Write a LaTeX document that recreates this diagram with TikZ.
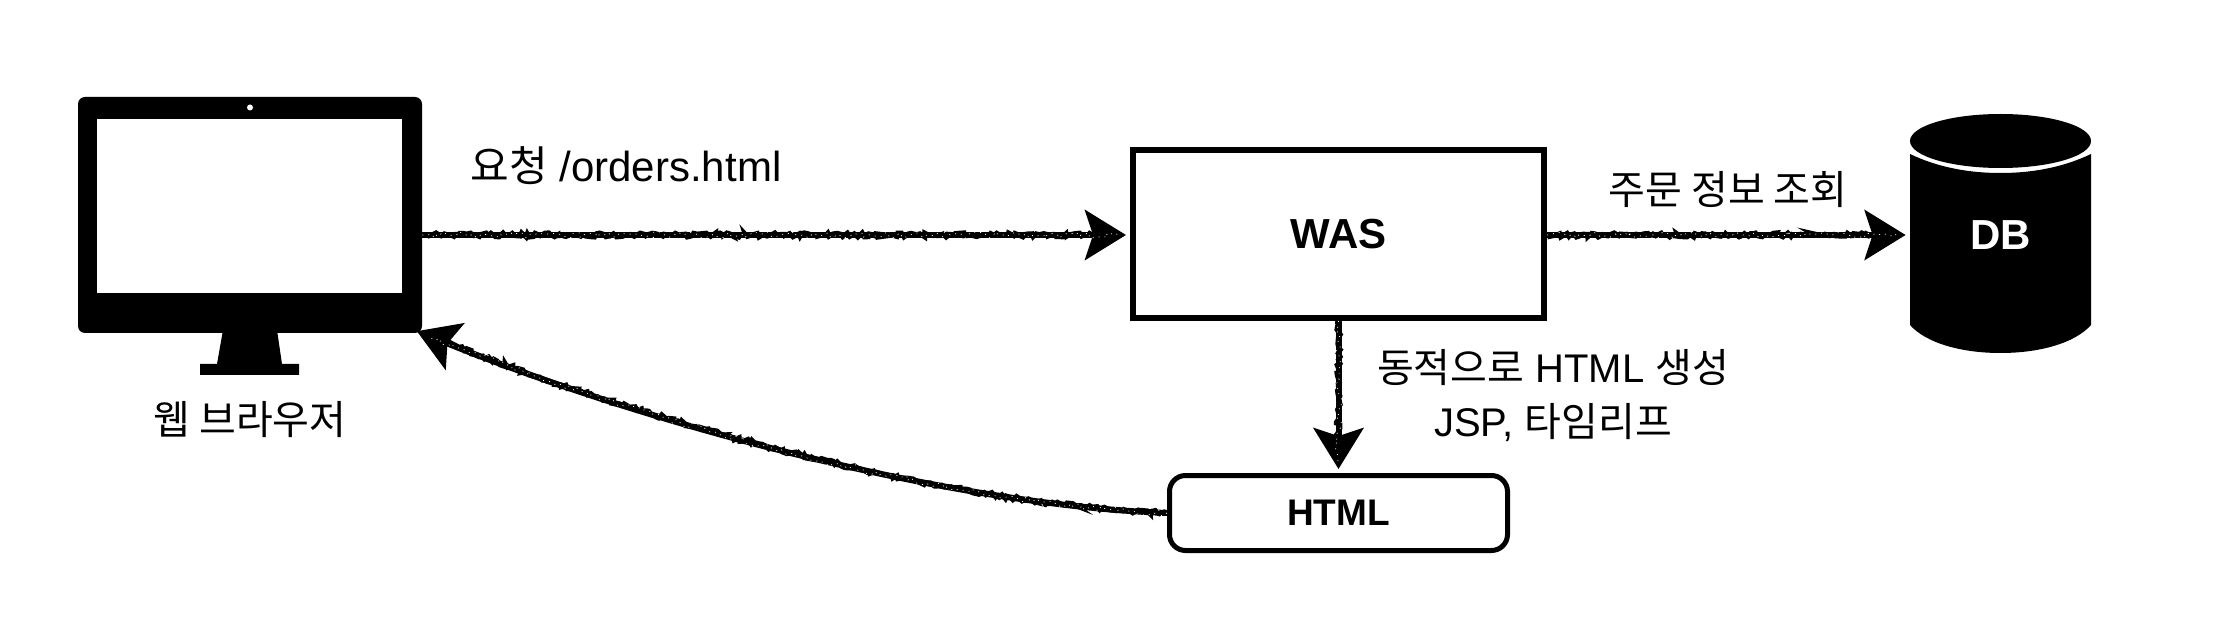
\documentclass[tikz,border=0pt]{standalone}
\usepackage{fontspec}
\setmainfont{Liberation Sans}
\newfontfamily\kr{Noto Sans CJK KR}
\usetikzlibrary{positioning, arrows.meta, decorations.pathmorphing}

\begin{document}
\begin{tikzpicture}[
  x=0.5pt, y=-0.5pt,
  lbl/.style={font=\fontsize{20}{27}\selectfont, align=center, inner sep=0pt},
  box/.style={draw, line width=3pt, minimum width=205.5pt, minimum height=84pt,
              font=\fontsize{21}{25}\selectfont\bfseries},
  doc/.style={draw, line width=2.5pt, rounded corners=8pt, minimum width=169pt,
              minimum height=37.5pt, font=\fontsize{18.5}{22}\selectfont\bfseries},
  screen/.style={fill=white, inner sep=0pt, minimum width=152.5pt, minimum height=87pt},
  monitor/.style={fill=black, rounded corners=3.5pt, inner sep=0pt,
                  minimum width=172pt, minimum height=118pt},
  dbnode/.style={text=white, inner sep=0pt, minimum width=90.5pt, minimum height=119pt,
                 font=\fontsize{21}{25}\selectfont\bfseries},
  arr/.style={-{Stealth[length=20.5pt, width=25pt, inset=4pt]}, line width=3pt,
              shorten >=2pt,
              postaction={draw, arrows=-, shorten >=0pt, line width=2.4pt, decorate,
                          decoration={random steps, segment length=1.5pt, amplitude=1.1pt,
                                      post=moveto, post length=14pt}},
              postaction={draw, white, arrows=-, shorten >=0pt, line width=0.35pt,
                          dash pattern=on 0.5pt off 2.5pt, decorate,
                          decoration={random steps, segment length=2pt, amplitude=1.6pt,
                                      post=moveto, post length=5pt}}}
]
\pgfmathsetseed{7}
\useasboundingbox (0,0) rectangle (2240,636);

%% --- Browser ---
\fill (223,330) -- (277,330) -- (282,364) -- (299,364) -- (299,375)
      -- (200,375) -- (200,364) -- (217,364) -- cycle;
\node[monitor] (monitor) at (250,215) {};
\node[screen] (screen) at (249.5,206) {};
\node[circle, fill=white, inner sep=0pt, minimum size=3pt] (camera) at (250,107.5) {};
\node[lbl] (browser) at (250,420) {\kr 웹 브라우저};

%% --- WAS / HTML ---
\node[box] (was) at (1338.5,234) {\raisebox{-1pt}{WAS}};
\node[doc] (html) at (1338.5,513) {HTML};

%% --- DB ---
\fill (1910,154) .. controls (1935,166) and (1965,173) .. (2000.5,173)
      .. controls (2036,173) and (2066,166) .. (2091,154)
      -- (2091,325) .. controls (2075,343) and (2040,353) .. (2000.5,353)
      .. controls (1961,353) and (1926,343) .. (1910,325) -- cycle;
\fill (2000.5,141) ellipse [x radius=45.25pt, y radius=13.5pt];
\node[dbnode] (db) at (2000.5,235) {DB};

%% --- Labels ---
\node[lbl, font=\fontsize{21}{27}\selectfont] (request) at (626,166) {{\kr 요청} /orders.html};
\node[lbl] (query) at (1728,190) {\kr 주문 정보 조회};
\node[lbl] (render) at (1553,396) {{\kr 동적으로} HTML {\kr 생성}\\JSP, {\kr 타임리프}};

%% --- Arrows ---
\draw[arr] (monitor.east |- db.west) -- (was.west |- db.west);
\draw[arr] (was.east |- db.west) -- (db.west);
\draw[arr] (was.south) -- (html.north);
\draw[arr, shorten >=-3pt] (html.west) .. controls (950,505) and (650,425) .. (monitor.south east);

\end{tikzpicture}
\end{document}
